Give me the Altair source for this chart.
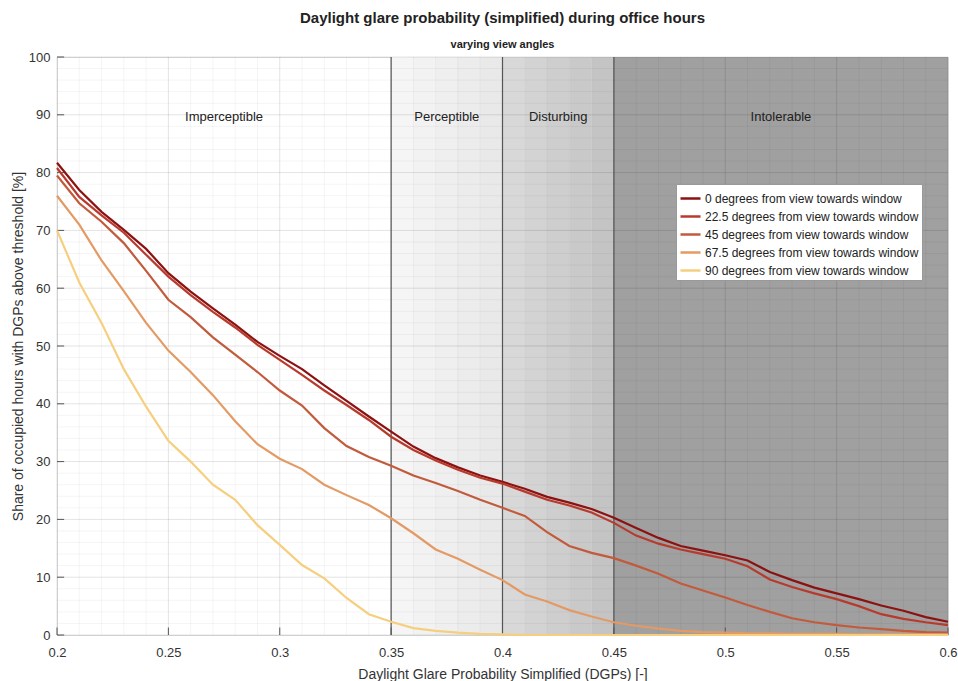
import altair as alt
import pandas as pd

# ---------------- data ----------------
dgps = [0.20, 0.21, 0.22, 0.23, 0.24, 0.25, 0.26, 0.27, 0.28, 0.29,
        0.30, 0.31, 0.32, 0.33, 0.34, 0.35, 0.36, 0.37, 0.38, 0.39,
        0.40, 0.41, 0.42, 0.43, 0.44, 0.45, 0.46, 0.47, 0.48, 0.49,
        0.50, 0.51, 0.52, 0.53, 0.54, 0.55, 0.56, 0.57, 0.58, 0.59, 0.60]

s0 = [81.7, 77.0, 73.2, 70.1, 66.8, 62.6, 59.4, 56.5, 53.7, 50.7,
      48.3, 46.0, 43.2, 40.5, 37.8, 35.2, 32.6, 30.6, 29.0, 27.6,
      26.5, 25.3, 23.9, 22.9, 21.8, 20.3, 18.5, 16.8, 15.4, 14.6,
      13.8, 12.9, 10.9, 9.5, 8.2, 7.2, 6.2, 5.1, 4.2, 3.1, 2.3]
s22 = [80.8, 75.8, 72.6, 69.6, 65.8, 62.0, 58.8, 55.9, 53.2, 50.2,
       47.6, 45.0, 42.3, 39.8, 37.2, 34.3, 32.0, 30.2, 28.6, 27.2,
       26.2, 24.8, 23.4, 22.4, 21.2, 19.4, 17.2, 15.8, 14.8, 14.0,
       13.2, 11.9, 9.6, 8.3, 7.2, 6.2, 5.0, 3.6, 2.8, 2.2, 1.7]
s45 = [79.5, 74.7, 71.5, 67.8, 63.0, 58.0, 55.0, 51.5, 48.5, 45.5,
       42.3, 39.7, 35.8, 32.7, 30.8, 29.3, 27.6, 26.3, 24.9, 23.4,
       22.0, 20.6, 17.8, 15.4, 14.2, 13.3, 12.0, 10.6, 8.9, 7.7,
       6.5, 5.2, 4.0, 2.9, 2.2, 1.7, 1.3, 1.0, 0.7, 0.5, 0.4]
s67 = [76.0, 71.0, 64.8, 59.5, 54.0, 49.2, 45.5, 41.5, 37.0, 33.0,
       30.5, 28.7, 26.0, 24.2, 22.5, 20.2, 17.6, 14.8, 13.2, 11.3,
       9.5, 7.0, 5.8, 4.3, 3.2, 2.2, 1.6, 1.1, 0.7, 0.5,
       0.4, 0.3, 0.3, 0.2, 0.2, 0.2, 0.1, 0.1, 0.1, 0.1, 0.1]
s90 = [70.0, 61.0, 54.0, 46.0, 39.5, 33.6, 30.0, 26.0, 23.4, 19.0,
       15.6, 12.1, 9.8, 6.4, 3.6, 2.3, 1.2, 0.7, 0.4, 0.2,
       0.1, 0.0, 0.0, 0.0, 0.0, 0.0, 0.0, 0.0, 0.0, 0.0,
       0.0, 0.0, 0.0, 0.0, 0.0, 0.0, 0.0, 0.0, 0.0, 0.0, 0.0]

series_names = ["0 degrees from view towards window",
                "22.5 degrees from view towards window",
                "45 degrees from view towards window",
                "67.5 degrees from view towards window",
                "90 degrees from view towards window"]
series_colors = ["#8c1111", "#b73a2d", "#c25a3c", "#e39a64", "#f6cf7e"]

zone_labels = ["Imperceptible", "Perceptible", "Disturbing", "Intolerable"]
zone_label_x = [0.275, 0.375, 0.425, 0.525]
zone_start = [0.35, 0.36, 0.37, 0.38, 0.39, 0.40, 0.41, 0.42, 0.43, 0.44, 0.45]
zone_end = [0.36, 0.37, 0.38, 0.39, 0.40, 0.41, 0.42, 0.43, 0.44, 0.45, 0.60]
zone_fill = ["#f5f5f5", "#f2f2f2", "#efefef", "#ececec", "#e9e9e9",
             "#d8d8d8", "#d3d3d3", "#cecece", "#c9c9c9", "#c4c4c4", "#a0a0a0"]
zone_bounds = [0.35, 0.40, 0.45]

x_ticks = [0.2, 0.25, 0.3, 0.35, 0.4, 0.45, 0.5, 0.55, 0.6]
y_ticks = [0, 10, 20, 30, 40, 50, 60, 70, 80, 90, 100]

# ---------------- tables ----------------
rows = []
for name, vals in zip(series_names, [s0, s22, s45, s67, s90]):
    for xv, yv in zip(dgps, vals):
        rows.append({"dgps": xv, "share": yv, "series": name})
df = pd.DataFrame(rows)

nz = len(zone_start)
zones = pd.DataFrame({"x0": zone_start, "x1": zone_end, "fill": zone_fill,
                      "y0": [0] * nz, "y1": [100] * nz})
minor_x = pd.DataFrame({"v": [round(0.2 + 0.01 * i, 2) for i in range(41)]})
minor_y = pd.DataFrame({"v": [2 * i for i in range(51)]})
major_x = pd.DataFrame({"v": x_ticks})
major_y = pd.DataFrame({"v": y_ticks})

FONT = "Liberation Sans"
xs = alt.Scale(domain=[0.2, 0.6], nice=False, zero=False)
ys = alt.Scale(domain=[0, 100], nice=False)
XT = "Daylight Glare Probability Simplified (DGPs) [-]"
YT = "Share of occupied hours with DGPs above threshold [%]"

X_AXIS = alt.Axis(values=x_ticks, format="~g", grid=False, ticks=False, domain=False,
                  labelFont=FONT, labelFontSize=13, labelColor="#333333", labelPadding=11,
                  titleFont=FONT, titleFontSize=14, titleFontWeight="normal",
                  titleColor="#333333", titlePadding=8, labelFlush=False)
Y_AXIS = alt.Axis(values=y_ticks, grid=False, ticks=False, domain=False,
                  labelFont=FONT, labelFontSize=13, labelColor="#333333", labelPadding=7,
                  titleFont=FONT, titleFontSize=14, titleFontWeight="normal",
                  titleColor="#333333", titlePadding=3, labelFlush=False)


def X(f):
    return alt.X(f, scale=xs, axis=X_AXIS, title=XT)


def Y(f):
    return alt.Y(f, scale=ys, axis=Y_AXIS, title=YT)


rects = alt.Chart(zones).mark_rect(stroke=None, strokeWidth=0).encode(
    x=X("x0:Q"), x2="x1:Q", y=Y("y0:Q"), y2="y1:Q",
    fill=alt.Fill("fill:N", scale=None))

gx_minor = alt.Chart(minor_x).mark_rule(color="black", opacity=0.045, strokeWidth=1).encode(x=X("v:Q"))
gy_minor = alt.Chart(minor_y).mark_rule(color="black", opacity=0.045, strokeWidth=1).encode(y=Y("v:Q"))
gx_major = alt.Chart(major_x).mark_rule(color="black", opacity=0.07, strokeWidth=1).encode(x=X("v:Q"))
gy_major = alt.Chart(major_y).mark_rule(color="black", opacity=0.07, strokeWidth=1).encode(y=Y("v:Q"))

bounds = alt.Chart(pd.DataFrame({"v": zone_bounds})).mark_rule(
    color="#555555", strokeWidth=1.2).encode(x=X("v:Q"))

tick_x = alt.Chart(pd.DataFrame({"v": x_ticks, "a": [0] * 9, "b": [1.3] * 9})).mark_rule(
    color="#555555", strokeWidth=1).encode(x=X("v:Q"), y=Y("a:Q"), y2="b:Q")
tick_y = alt.Chart(pd.DataFrame({"v": y_ticks, "a": [0.2] * 11, "b": [0.2032] * 11})).mark_rule(
    color="#555555", strokeWidth=1).encode(y=Y("v:Q"), x=X("a:Q"), x2="b:Q")

labels = alt.Chart(pd.DataFrame({"t": zone_labels, "x": zone_label_x, "y": [89.6] * 4})).mark_text(
    font=FONT, fontSize=13, color="#222222").encode(x=X("x:Q"), y=Y("y:Q"), text="t:N")

lines = alt.Chart(df).mark_line(strokeWidth=2.2).encode(
    x=X("dgps:Q"),
    y=Y("share:Q"),
    color=alt.Color("series:N", title=None,
                    scale=alt.Scale(domain=series_names, range=series_colors),
                    sort=series_names,
                    legend=alt.Legend(orient="none", legendX=619, legendY=127,
                                      fillColor="white", strokeColor="#999999",
                                      padding=3, labelFont=FONT, labelFontSize=12,
                                      labelColor="#222222", labelLimit=400,
                                      symbolType="stroke", symbolStrokeWidth=2.5,
                                      symbolSize=400, rowPadding=-2, labelOffset=3)),
    order=alt.Order("dgps:Q"),
)

chart = alt.layer(rects, gx_minor, gy_minor, gx_major, gy_major, bounds,
                  tick_x, tick_y, labels, lines).properties(
    width=891, height=578,
    autosize=alt.AutoSizeParams(type="none"),
    padding={"left": 57, "top": 57, "right": 10, "bottom": 46},
    title=alt.TitleParams(text="Daylight glare probability (simplified) during office hours",
                          subtitle="varying view angles", anchor="middle",
                          font=FONT, fontSize=15, fontWeight="bold", color="#222222",
                          subtitleFont=FONT, subtitleFontSize=11, subtitleFontWeight="bold",
                          subtitleColor="#222222", subtitlePadding=13, offset=1),
).configure_view(stroke="#666666", strokeWidth=1).configure(background="white")

chart.save("out.html", embed_options={"renderer": "svg", "actions": False})
